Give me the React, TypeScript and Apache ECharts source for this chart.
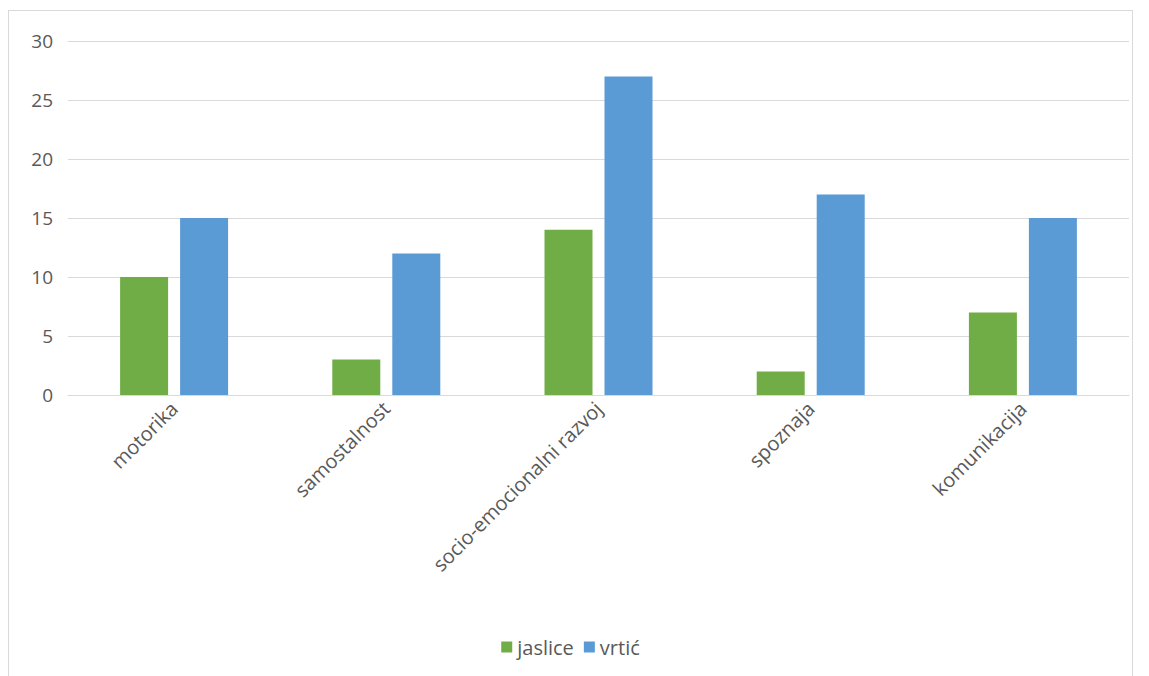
import React, { useEffect, useRef } from "react";
import * as echarts from "echarts";

const categories = ["motorika", "samostalnost", "socio-emocionalni razvoj", "spoznaja", "komunikacija"];
const jaslice = [10, 3, 14, 2, 7];
const vrtic = [15, 12, 27, 17, 15];
const seriesNames = ["jaslice", "vrtić"];

export default function App() {
  const ref = useRef<HTMLDivElement>(null);
  useEffect(() => {
    if (!ref.current) return;
    const chart = echarts.init(ref.current, null, { renderer: "svg" });
    const font = "'Open Sans', 'Noto Sans', sans-serif";
    chart.setOption({
      animation: false,
      backgroundColor: "#ffffff",
      grid: { left: 59, right: 3, top: 30, bottom: 296 },
      legend: {
        data: seriesNames,
        bottom: 29,
        left: "center",
        itemWidth: 11,
        itemHeight: 11,
        itemGap: 10,
        icon: "rect",
        textStyle: { color: "#595959", fontSize: 20, fontFamily: font, padding: [0, 0, 0, 0] },
      },
      xAxis: {
        type: "category",
        data: categories,
        axisLine: { show: true, lineStyle: { color: "#d9d9d9", width: 1 } },
        axisTick: { show: false },
        axisLabel: { rotate: 45, color: "#595959", fontSize: 20, fontFamily: font, margin: 10, interval: 0, padding: [0, 0, 0, 0] },
      },
      yAxis: {
        type: "value",
        min: 0,
        max: 30,
        interval: 5,
        axisLine: { show: false },
        axisTick: { show: false },
        axisLabel: { color: "#595959", fontSize: 19, fontFamily: font, margin: 15 },
        splitLine: { lineStyle: { color: "#d9d9d9", width: 1 } },
      },
      series: [
        { name: seriesNames[0], type: "bar", data: jaslice, barWidth: 48, barGap: "25%", itemStyle: { color: "#70AD47" } },
        { name: seriesNames[1], type: "bar", data: vrtic, barWidth: 48, barGap: "25%", itemStyle: { color: "#5B9BD5" } },
      ],
    });
    return () => chart.dispose();
  }, []);
  return (
    <div style={{ marginTop: 2, border: "1px solid #d9d9d9", width: 1123, height: 700, boxSizing: "content-box" }}>
      <div ref={ref} style={{ width: 1123, height: 680 }} />
    </div>
  );
}
